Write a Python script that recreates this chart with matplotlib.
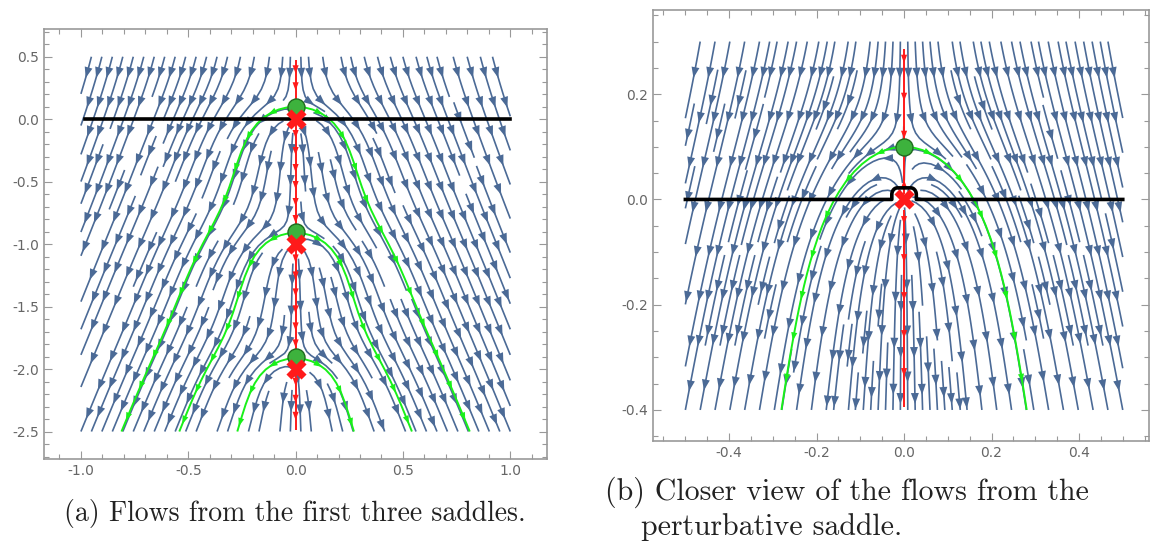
import numpy as np
import matplotlib
matplotlib.use("Agg")
import matplotlib.pyplot as plt
from matplotlib.patches import FancyArrowPatch

# Poles (red crosses) and saddles (green dots) on the imaginary axis
pole_y = [0.0, -1.0, -2.0]
saddle_y = [0.1, -0.9, -1.9]
chain_depth = 30        # the pole chain continues below the window
strength = 0.1          # source strength of every pole
saddle_gap = 0.1        # saddle height above the first pole
drift = strength * sum(1.0 / (saddle_gap + n) for n in range(chain_depth))
chain = [-float(n) for n in range(chain_depth)]

# contour along the real axis, with a small detour over the pole in (b)
contour_a = [-0.98, 1.0]
contour_b = [-0.5, 0.5]
detour_w, detour_h = 0.028, 0.022

# stream box and axis limits of the two panels
box_a = [-1.0, 1.0, -2.5, 0.5]
lim_a = [-1.172, 1.171, -2.72, 0.722]
box_b = [-0.5, 0.5, -0.4, 0.3]
lim_b = [-0.574, 0.56, -0.459, 0.36]

xt_a = [-1.0, -0.5, 0.0, 0.5, 1.0]
yt_a = [0.5, 0.0, -0.5, -1.0, -1.5, -2.0, -2.5]
xt_b = [-0.4, -0.2, 0.0, 0.2, 0.4]
yt_b = [0.2, 0.0, -0.2, -0.4]

BLUE = "#4b6a96"
GREEN = "#19f019"
RED = "#ff1a1a"
GRAY = "#999999"
HEAD = "-|>,head_length=0.6,head_width=0.22"


def field(X, Y):
    Z = X + 1j * Y
    F = 1j * drift + sum(strength / (Z - 1j * p) for p in chain)
    V = np.conj(F)
    U, W = V.real, V.imag
    s = np.hypot(U, W)
    near = np.zeros_like(s, dtype=bool)
    for p in pole_y:
        near |= np.hypot(X, Y - p) < 0.004
    return np.ma.masked_where(near, U / s), np.ma.masked_where(near, W / s)


def stream(ax, x, y, U, W, **kw):
    # streamplot, keep the lines, drop its single arrow, return trajectories
    before = set(ax.patches)
    sp = ax.streamplot(x, y, U, W, **kw)
    for p in list(ax.patches):
        if p not in before:
            p.remove()
    trajs, cur = [], None
    for s in sp.lines.get_segments():
        s = np.asarray(s)
        if len(s) > 2:
            if cur:
                trajs.append(np.array(cur))
                cur = None
            trajs.append(s)
            continue
        if cur is not None and np.allclose(cur[-1], s[0]):
            cur.append(s[1])
        else:
            if cur:
                trajs.append(np.array(cur))
            cur = [s[0], s[1]]
    if cur:
        trajs.append(np.array(cur))
    return trajs


def add_arrows(ax, trajs, step, offset, color, z, ms=12):
    for tr in trajs:
        P = ax.transData.transform(tr)
        d = np.hypot(*np.diff(P, axis=0).T)
        s = np.concatenate([[0], np.cumsum(d)])
        L = s[-1]
        if L < 9:
            continue
        pos = np.arange(offset, L, step)
        if len(pos) == 0:
            pos = [0.85 * L]
        for sv in pos:
            tip = (np.interp(sv, s, tr[:, 0]), np.interp(sv, s, tr[:, 1]))
            tail = (np.interp(sv - 6, s, tr[:, 0]), np.interp(sv - 6, s, tr[:, 1]))
            ax.add_patch(FancyArrowPatch(tail, tip, arrowstyle=HEAD, mutation_scale=ms,
                                         color=color, lw=0, shrinkA=0, shrinkB=0,
                                         zorder=z))


def style_axes(ax, lim, xt, yt, xminor, yminor):
    ax.set_xticks(xt)
    ax.set_yticks(yt)
    ax.set_xticklabels(["%.1f" % v for v in xt])
    ax.set_yticklabels(["%.1f" % v for v in yt])
    ax.set_xticks(np.arange(-3, 3, xminor), minor=True)
    ax.set_yticks(np.arange(-3, 3, yminor), minor=True)
    ax.set_xlim(lim[0], lim[1])
    ax.set_ylim(lim[2], lim[3])
    ax.tick_params(which="both", direction="in", top=True, right=True,
                   color=GRAY, labelcolor="#666666", labelsize=10)
    ax.tick_params(which="major", length=6, width=0.8)
    ax.tick_params(which="minor", length=3.5, width=0.8)
    for s in ax.spines.values():
        s.set_color(GRAY)
        s.set_linewidth(1.2)


def panel(ax, box, n, dens, contour, detour):
    x = np.linspace(box[0], box[1], n)
    ny = int(n * (box[3] - box[2]) / (box[1] - box[0]))
    y = np.linspace(box[2], box[3], ny)
    X, Y = np.meshgrid(x, y)
    U, W = field(X, Y)

    blue = stream(ax, x, y, U, W, density=dens, color=BLUE, linewidth=1.2, zorder=1)

    # thimbles leave each saddle sideways
    green = []
    for sy in saddle_y:
        if box[2] < sy < box[3]:
            for sx in (-0.003, 0.003):
                green += stream(ax, x, y, U, W, start_points=[[sx, sy]],
                                integration_direction="forward", color=GREEN,
                                linewidth=1.4, broken_streamlines=False, zorder=3)

    # red flow along the imaginary axis, piece by piece between poles and saddles
    pieces = [(box[3], saddle_y[0])]
    for i, p in enumerate(pole_y):
        nxt = saddle_y[i + 1] if i + 1 < len(saddle_y) else box[2]
        pieces.append((p, nxt))
        if detour:
            pieces.append((p, saddle_y[i]))
    red = []
    for a, b in pieces:
        lo, hi = max(min(a, b), box[2]), min(max(a, b), box[3])
        if hi - lo < 0.02:
            continue
        rows = (y >= lo + 0.004) & (y <= hi - 0.004)
        if rows.sum() < 3:
            continue
        start = a - 0.008 if b < a else a + 0.008
        start = min(max(start, y[rows][0] + 1e-4), y[rows][-1] - 1e-4)
        red += stream(ax, x, y[rows], U[rows], W[rows], start_points=[[0.0, start]],
                      integration_direction="forward", color=RED, linewidth=1.4,
                      zorder=4)

    # integration contour
    if detour:
        q = np.linspace(0, np.pi / 2, 20)
        r = 0.45 * detour_w
        cx = np.concatenate([[contour[0], -detour_w], -detour_w + r - r * np.cos(q),
                             detour_w - r + r * np.sin(q), [detour_w, contour[1]]])
        cy = np.concatenate([[0, 0], detour_h - r + r * np.sin(q),
                             detour_h - r + r * np.cos(q), [0, 0]])
        ax.plot(cx, cy, color="black", lw=2.6, zorder=5, solid_joinstyle="round")
    else:
        ax.plot(contour, [0, 0], color="black", lw=2.6, zorder=5)

    sy = [s for s in saddle_y if box[2] < s < box[3]]
    py = [p for p in pole_y if box[2] < p < box[3]]
    ax.scatter(np.zeros(len(sy)), sy, s=150, color="#3db23d", edgecolor="#1f6b1f",
               linewidth=1.0, zorder=6)
    ax.scatter(np.zeros(len(py)), py, s=210, marker="X", color=RED, lw=0, zorder=7)
    return blue, green, red


fig = plt.figure(figsize=(11.51, 5.43), dpi=100)
W_, H_ = 1151, 543
ax1 = fig.add_axes([44 / W_, 1 - 459 / H_, (547 - 44) / W_, (459 - 29) / H_])
ax2 = fig.add_axes([653 / W_, 1 - 441 / H_, (1149 - 653) / W_, (441 - 10) / H_])

l1 = panel(ax1, box_a, 200, (1.4, 1.5), contour_a, False)
l2 = panel(ax2, box_b, 200, (2.0, 1.8), contour_b, True)

style_axes(ax1, lim_a, xt_a, yt_a, 0.1, 0.1)
style_axes(ax2, lim_b, xt_b, yt_b, 0.05, 0.05)

# arrow spacing (px): blue step, blue offset, green step, red step
spacing = {ax1: (31, 22, 34, 17), ax2: (46, 37, 42, 38)}
for ax, (blue, green, red) in [(ax1, l1), (ax2, l2)]:
    bs, bo, gs, rs = spacing[ax]
    add_arrows(ax, blue, bs, bo, BLUE, 1.5, ms=13)
    add_arrows(ax, green, gs, 28, GREEN, 3.5, ms=10)
    add_arrows(ax, red, rs, 14, RED, 4.5, ms=10)

cap = dict(family="cmr10", color="#222222")
fig.text(295 / W_, 1 - 514 / H_, "(a) Flows from the first three saddles.",
         ha="center", va="center", fontsize=20, **cap)
fig.text(605 / W_, 1 - 492 / H_, "(b) Closer view of the flows from the",
         ha="left", va="center", fontsize=21.5, **cap)
fig.text(641 / W_, 1 - 527 / H_, "perturbative saddle.",
         ha="left", va="center", fontsize=21.5, **cap)

fig.savefig("out.png", dpi=100)
